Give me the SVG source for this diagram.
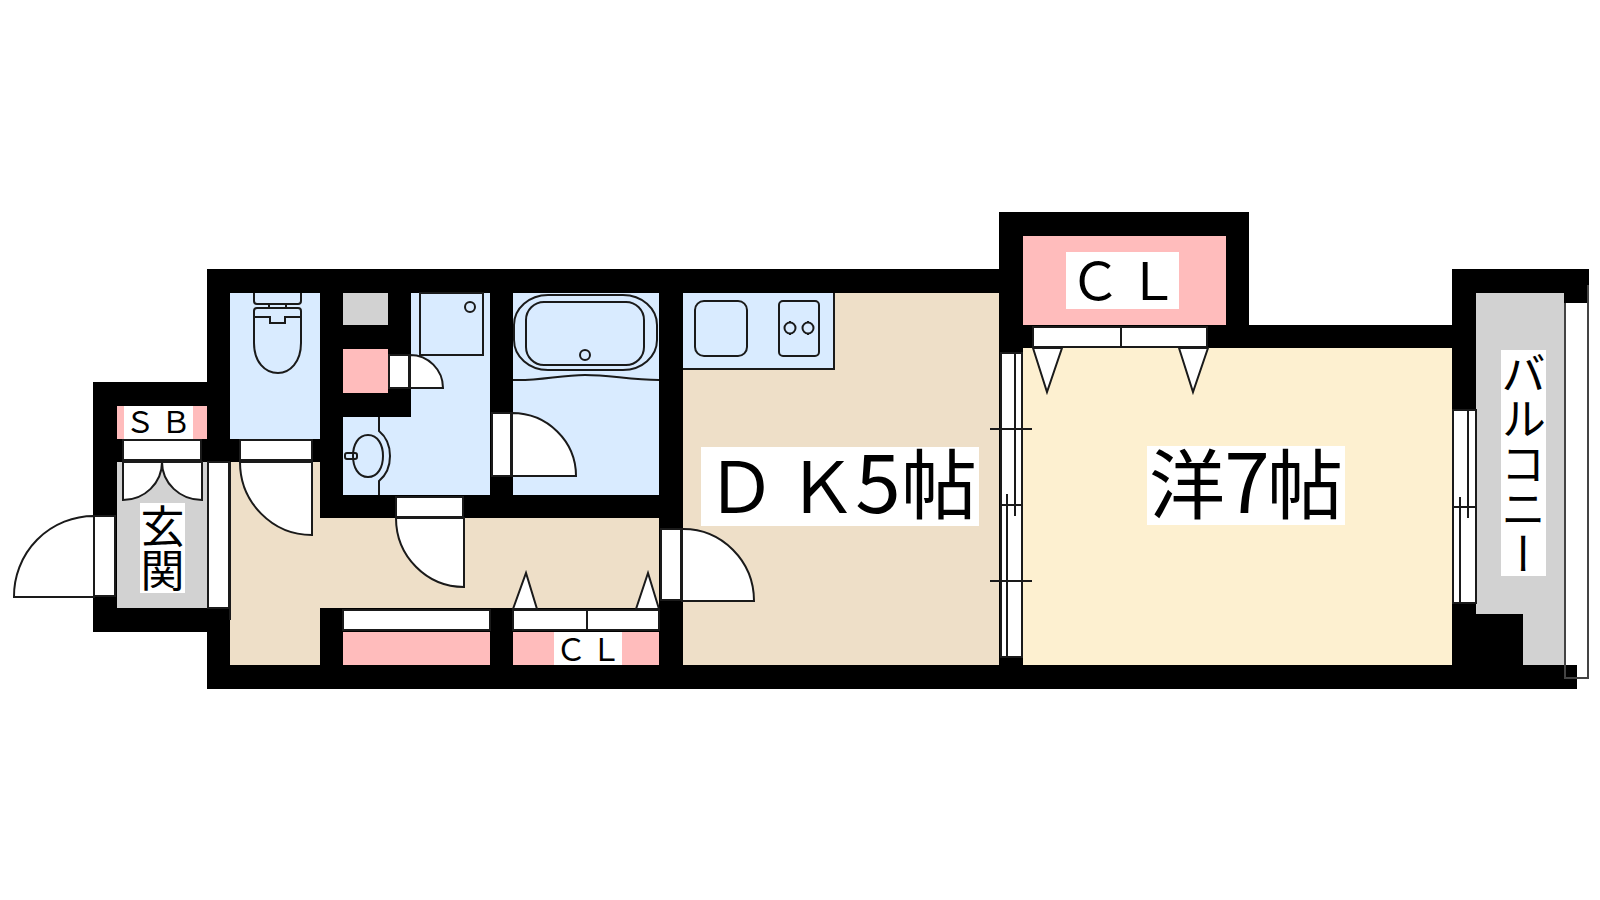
<svg xmlns="http://www.w3.org/2000/svg" width="1600" height="900" viewBox="0 0 1600 900">
<style>
.l{fill:#fff;stroke:#1a1a1a;stroke-width:2}
.n{fill:none;stroke:#1a1a1a;stroke-width:2}
.bl{fill:#d9ebff}.be{fill:#eedfc8}.cr{fill:#fdf0d0}.pk{fill:#ffbcbc}.gr{fill:#d2d2d2}.wh{fill:#fff}
text{font-family:"Noto Sans CJK JP","Noto Sans",sans-serif;fill:#000;text-anchor:middle}
.v{writing-mode:vertical-rl;text-anchor:start}
.d{font-family:"Liberation Sans Narrow","Noto Sans CJK JP",sans-serif;font-size:82px}
</style>
<rect width="1600" height="900" fill="#fff"/>
<g id="walls"><path fill="#000" d="M93,382H207V269H999V212H1249V325H1452V269H1589V303H1566V665H1577V689H207V632H93Z"/></g>
<g id="rooms">
<rect class="bl" x="230" y="293" width="90" height="146"/>
<rect class="gr" x="117" y="462" width="90" height="146"/>
<rect class="pk" x="117" y="406" width="90" height="33"/>
<path class="be" d="M230,462H320V518H659V608H320V665H230Z"/>
<rect class="gr" x="343" y="293" width="45" height="32"/>
<rect class="pk" x="343" y="349" width="45" height="44"/>
<path class="bl" d="M411,293H490V495H343V417H411Z"/>
<rect class="bl" x="513" y="293" width="146" height="202"/>
<rect class="pk" x="343" y="632" width="147" height="33"/>
<rect class="pk" x="513" y="632" width="146" height="33"/>
<rect class="be" x="683" y="293" width="316" height="372"/>
<rect class="bl" x="683" y="293" width="151" height="76"/>
<path class="n" d="M834,293V369H683"/>
<rect class="pk" x="1023" y="236" width="203" height="89"/>
<rect class="cr" x="1023" y="348" width="429" height="317"/>
<path class="gr" d="M1476,293H1564V665H1523V614H1476Z"/>
</g>
<g id="fixtures">
<path class="n" d="M254,293V301Q254,304 257,304H298Q301,304 301,301V293"/>
<path class="n" d="M269,304V308M286,304V308"/>
<path class="n" d="M257,308H298Q301,308 301,311V343C301,362 290,373 278,373C265,373 254,362 254,343V311Q254,308 257,308Z"/>
<path class="n" d="M254,317H270V323H285V317H301"/>
<rect class="n" x="420" y="293" width="63" height="62"/>
<circle class="n" cx="470" cy="307" r="5"/>
<path class="n" d="M379,417V431Q390,440 390,456Q390,472 379,481V495"/>
<path class="n" d="M368,435C378,435 383,445 383,456C383,467 378,477 368,477C358,477 353,467 353,456C353,445 358,435 368,435Z"/>
<rect class="n" x="345" y="453" width="12" height="6" rx="2" fill="#d9ebff"/>
<rect class="n" x="514" y="295" width="143" height="75" rx="34" ry="30"/>
<rect class="n" x="526" y="302" width="118" height="63" rx="18" ry="18"/>
<circle class="n" cx="585" cy="355" r="5"/>
<path class="n" d="M513,380C540,381 560,375 585,375C610,375 630,380 659,380"/>
<rect class="n" x="695" y="301" width="52" height="55" rx="9"/>
<rect class="n" x="779" y="301" width="40" height="55" rx="4"/>
<circle class="n" cx="790" cy="328" r="5.5"/>
<circle class="n" cx="808" cy="328" r="5.5"/>
<path class="n" d="M790,321V323M790,333V335M808,321V323M808,333V335"/>
</g>
<g id="doors">
<rect class="l" x="123" y="440" width="78" height="20"/>
<path class="l" d="M123,462H162A39,38 0 0 1 123,500Z"/>
<path class="l" d="M202,462H162A40,38 0 0 0 202,500Z"/>
<rect class="l" x="94" y="516" width="21" height="80"/>
<path class="l" d="M94,516A80,80 0 0 0 14,597H94Z"/>
<path class="l" d="M208,462V608H229V462Z"/>
<path class="n" d="M230,462V620"/>
<rect class="l" x="240" y="440" width="72" height="20"/>
<path class="l" d="M240,462H312V535A72,73 0 0 1 240,462Z"/>
<rect class="l" x="389" y="355" width="20" height="33"/>
<path class="l" d="M410,355A33,33 0 0 1 443,388H410Z"/>
<rect class="l" x="492" y="413" width="19" height="63"/>
<path class="l" d="M512,413A64,63 0 0 1 576,476H512Z"/>
<rect class="l" x="396" y="497" width="67" height="20"/>
<path class="l" d="M396,518H464V587A68,69 0 0 1 396,518Z"/>
<rect class="l" x="661" y="529" width="20" height="71"/>
<path class="l" d="M682,529A71,72 0 0 1 754,601H682Z"/>
<rect class="l" x="343" y="610" width="147" height="20"/>
<rect class="l" x="513" y="610" width="146" height="20"/>
<path class="n" d="M587,610V630"/>
<path class="l" d="M513,609L526,573L537,609Z"/>
<path class="l" d="M636,609L648,573L659,609Z"/>
<rect class="l" x="1033" y="327" width="174" height="20"/>
<path class="n" d="M1121,327V347"/>
<path class="l" d="M1033,348L1047,392L1062,348Z"/>
<path class="l" d="M1179,348L1193,392L1208,348Z"/>
</g>
<g id="windows">
<rect class="l" x="1001" y="353" width="21" height="304"/>
<path class="n" d="M1015,353V516M1007,494V657M1001,505H1022M990,429H1032M990,581H1032"/>
<rect class="l" x="1453" y="410" width="23" height="193"/>
<path class="n" d="M1468,410V518M1460,497V603M1453,507H1476"/>
<path d="M1565,303V678H1588V285" fill="none" stroke="#444" stroke-width="2"/>
</g>
<g id="labels">
<rect class="wh" x="124" y="406" width="69" height="33"/>
<text font-size="30" y="433" x="140 176">ＳＢ</text>
<rect class="wh" x="140" y="503" width="45" height="90"/>
<text class="v" font-size="44" x="162.5" y="504">玄関</text>
<rect class="wh" x="554" y="632" width="68" height="33"/>
<text font-size="31" y="661" x="571 606">ＣＬ</text>
<rect class="wh" x="701" y="447" width="278" height="79"/>
<text y="513"><tspan font-size="71" x="741">Ｄ</tspan><tspan font-size="71" x="822">Ｋ</tspan><tspan class="d" x="878">5</tspan><tspan font-size="76" x="939">帖</tspan></text>
<rect class="wh" x="1066" y="252" width="113" height="57"/>
<text font-size="52" y="300" x="1095 1153">ＣＬ</text>
<rect class="wh" x="1147" y="446" width="198" height="79"/>
<text y="513"><tspan font-size="76" x="1187">洋</tspan><tspan class="d" x="1247">7</tspan><tspan font-size="76" x="1305">帖</tspan></text>
<rect class="wh" x="1501" y="350" width="45" height="226"/>
<text class="v" font-size="45" x="1523.5" y="351">バルコニー</text>
</g>
</svg>
